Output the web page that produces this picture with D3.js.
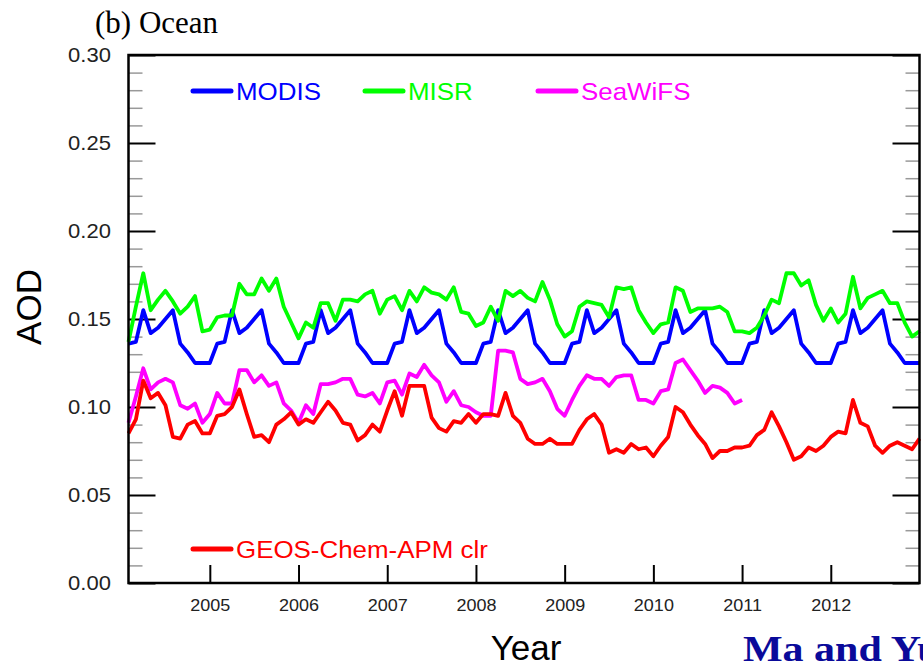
<!DOCTYPE html>
<html>
<head>
<meta charset="utf-8">
<script src="https://cdn.jsdelivr.net/npm/d3@7"></script>
<style>
  body { margin: 0; background: #fff; }
  svg { display: block; font-family: 'Liberation Sans', Arial, sans-serif; }
</style>
</head>
<body>
<svg id="chart"></svg>
<script>
// Monthly AOD over ocean, Jan 2004 .. Dec 2012
const modis = [
  0.136, 0.137, 0.155, 0.142, 0.145, 0.150, 0.155, 0.136, 0.131, 0.125, 0.125, 0.125,
  0.136, 0.137, 0.155, 0.142, 0.145, 0.150, 0.155, 0.136, 0.131, 0.125, 0.125, 0.125,
  0.136, 0.137, 0.155, 0.142, 0.145, 0.150, 0.155, 0.136, 0.131, 0.125, 0.125, 0.125,
  0.136, 0.137, 0.155, 0.142, 0.145, 0.150, 0.155, 0.136, 0.131, 0.125, 0.125, 0.125,
  0.136, 0.137, 0.155, 0.142, 0.145, 0.150, 0.155, 0.136, 0.131, 0.125, 0.125, 0.125,
  0.136, 0.137, 0.155, 0.142, 0.145, 0.150, 0.155, 0.136, 0.131, 0.125, 0.125, 0.125,
  0.136, 0.137, 0.155, 0.142, 0.145, 0.150, 0.155, 0.136, 0.131, 0.125, 0.125, 0.125,
  0.136, 0.137, 0.155, 0.142, 0.145, 0.150, 0.155, 0.136, 0.131, 0.125, 0.125, 0.125,
  0.136, 0.137, 0.155, 0.142, 0.145, 0.150, 0.155, 0.136, 0.131, 0.125, 0.125, 0.125
]
const misr = [
  0.137, 0.157, 0.176, 0.155, 0.161, 0.166, 0.160, 0.153, 0.157, 0.163, 0.143, 0.144,
  0.151, 0.152, 0.152, 0.170, 0.164, 0.164, 0.173, 0.166, 0.173, 0.157, 0.148, 0.139,
  0.148, 0.145, 0.159, 0.159, 0.149, 0.161, 0.161, 0.160, 0.164, 0.166, 0.153, 0.161,
  0.163, 0.155, 0.166, 0.160, 0.168, 0.165, 0.164, 0.161, 0.168, 0.154, 0.153, 0.146,
  0.148, 0.157, 0.149, 0.166, 0.163, 0.166, 0.162, 0.160, 0.171, 0.161, 0.147, 0.140,
  0.143, 0.157, 0.160, 0.159, 0.158, 0.151, 0.168, 0.167, 0.168, 0.155, 0.148, 0.142,
  0.147, 0.148, 0.168, 0.166, 0.154, 0.156, 0.156, 0.156, 0.157, 0.154, 0.143, 0.143,
  0.142, 0.145, 0.152, 0.161, 0.159, 0.176, 0.176, 0.169, 0.172, 0.158, 0.149, 0.156,
  0.148, 0.153, 0.174, 0.156, 0.162, 0.164, 0.166, 0.159, 0.159, 0.148, 0.140, 0.143
]
// SeaWiFS stops after Dec 2010
const seawifs = [
  0.091, 0.106, 0.122, 0.110, 0.114, 0.116, 0.114, 0.101, 0.099, 0.102, 0.091, 0.096,
  0.108, 0.102, 0.102, 0.121, 0.121, 0.114, 0.118, 0.112, 0.114, 0.102, 0.098, 0.091,
  0.101, 0.096, 0.113, 0.113, 0.114, 0.116, 0.116, 0.107, 0.106, 0.108, 0.102, 0.114,
  0.115, 0.107, 0.119, 0.117, 0.124, 0.118, 0.114, 0.103, 0.109, 0.101, 0.100, 0.097,
  0.095, 0.095, 0.132, 0.132, 0.131, 0.116, 0.113, 0.114, 0.116, 0.109, 0.099, 0.095,
  0.104, 0.112, 0.118, 0.116, 0.116, 0.112, 0.117, 0.118, 0.118, 0.104, 0.104, 0.102,
  0.109, 0.110, 0.125, 0.127, 0.121, 0.115, 0.108, 0.112, 0.111, 0.108, 0.102, 0.104
]
const geosChem = [
  0.085, 0.093, 0.115, 0.105, 0.108, 0.101, 0.083, 0.082, 0.090, 0.092, 0.085, 0.085,
  0.095, 0.096, 0.100, 0.110, 0.096, 0.083, 0.084, 0.080, 0.090, 0.093, 0.097, 0.090,
  0.093, 0.091, 0.097, 0.103, 0.098, 0.091, 0.090, 0.081, 0.084, 0.090, 0.086, 0.098,
  0.109, 0.095, 0.112, 0.112, 0.112, 0.094, 0.088, 0.086, 0.092, 0.091, 0.096, 0.091,
  0.096, 0.096, 0.095, 0.108, 0.095, 0.091, 0.082, 0.079, 0.079, 0.082, 0.079, 0.079,
  0.079, 0.087, 0.093, 0.096, 0.090, 0.074, 0.076, 0.074, 0.079, 0.076, 0.077, 0.072,
  0.078, 0.083, 0.100, 0.097, 0.090, 0.084, 0.079, 0.071, 0.075, 0.075, 0.077, 0.077,
  0.078, 0.084, 0.087, 0.097, 0.089, 0.080, 0.070, 0.072, 0.077, 0.075, 0.078, 0.083,
  0.086, 0.085, 0.104, 0.091, 0.089, 0.078, 0.074, 0.078, 0.080, 0.078, 0.076, 0.082
]

const startYear = 2004
const yearTicks = [2005, 2006, 2007, 2008, 2009, 2010, 2011, 2012]
const aodTicks = [0.00, 0.05, 0.10, 0.15, 0.20, 0.25, 0.30]
const aodMinorTicks = d3.range(0, 31).map(d => d / 100).filter((d, i) => i % 5 !== 0)

const series = [
  { name: 'MODIS', values: modis, color: '#0000ff' },
  { name: 'MISR', values: misr, color: '#00ff00' },
  { name: 'SeaWiFS', values: seawifs, color: '#ff00ff' },
  { name: 'GEOS-Chem-APM clr', values: geosChem, color: '#ff0000' }
]

// plot frame
const svgW = 923
const svgH = 667
const plotLeft = 128.5
const plotRight = 919.5
const plotTop = 55
const plotBottom = 583

const svg = d3.select('#chart').attr('width', svgW).attr('height', svgH)
svg.append('rect').attr('width', svgW).attr('height', svgH).attr('fill', '#fff')

// month i plotted at startYear + (i + 1) / 12
const x = d3.scaleLinear().domain([startYear + 1 / 12, startYear + 9]).range([plotLeft, plotRight])
const y = d3.scaleLinear().domain([0, 0.3]).range([plotBottom, plotTop])

const plot = svg.append('g')

// minor ticks (grey) on left and right
plot.append('g')
  .attr('transform', `translate(${plotLeft},0)`)
  .call(d3.axisRight(y).tickValues(aodMinorTicks).tickSize(14).tickFormat(''))
  .call(g => g.select('.domain').remove())
  .call(g => g.selectAll('line').attr('stroke', '#999').attr('stroke-width', 1.5))
plot.append('g')
  .attr('transform', `translate(${plotRight},0)`)
  .call(d3.axisLeft(y).tickValues(aodMinorTicks).tickSize(14).tickFormat(''))
  .call(g => g.select('.domain').remove())
  .call(g => g.selectAll('line').attr('stroke', '#999').attr('stroke-width', 1.5))

// major ticks + labels
plot.append('g')
  .attr('transform', `translate(${plotLeft},0)`)
  .call(d3.axisLeft(y).tickValues(aodTicks).tickSize(-27).tickPadding(16).tickFormat(d3.format('.2f')))
  .call(g => g.select('.domain').remove())
  .call(g => g.selectAll('line').attr('stroke', '#000').attr('stroke-width', 2))
  .call(g => g.selectAll('text')
    .attr('font-size', 20).attr('fill', '#222')
    .attr('font-family', "'Liberation Sans', Arial, sans-serif")
    .attr('transform', 'scale(1.1,1)'))
plot.append('g')
  .attr('transform', `translate(${plotRight},0)`)
  .call(d3.axisRight(y).tickValues(aodTicks).tickSize(-27).tickFormat(''))
  .call(g => g.select('.domain').remove())
  .call(g => g.selectAll('line').attr('stroke', '#000').attr('stroke-width', 2))

plot.append('g')
  .attr('transform', `translate(0,${plotBottom})`)
  .call(d3.axisBottom(x).tickValues(yearTicks).tickSize(-18).tickPadding(16).tickFormat(d3.format('d')))
  .call(g => g.select('.domain').remove())
  .call(g => g.selectAll('line').attr('stroke', '#000').attr('stroke-width', 2))
  .call(g => g.selectAll('text')
    .attr('font-size', 17).attr('fill', '#222')
    .attr('font-family', "'Liberation Sans', Arial, sans-serif")
    .attr('transform', 'scale(1.06,1)'))

// data lines
const line = d3.line()
  .x((d, i) => x(startYear + (i + 1) / 12))
  .y(d => y(d))

series.forEach(s => {
  plot.append('path')
    .datum(s.values)
    .attr('fill', 'none')
    .attr('stroke', s.color)
    .attr('stroke-width', 3.8)
    .attr('stroke-linejoin', 'round')
    .attr('d', line)
})

// frame on top
plot.append('rect')
  .attr('x', plotLeft).attr('y', plotTop)
  .attr('width', plotRight - plotLeft).attr('height', plotBottom - plotTop)
  .attr('fill', 'none').attr('stroke', '#000').attr('stroke-width', 2.5)

// legends
const legendPos = [
  { lx: 193, ly: 91 },
  { lx: 365, ly: 91 },
  { lx: 538, ly: 91 },
  { lx: 193, ly: 549 }
]
series.forEach((s, i) => {
  const p = legendPos[i]
  svg.append('line')
    .attr('x1', p.lx).attr('x2', p.lx + 38)
    .attr('y1', p.ly).attr('y2', p.ly)
    .attr('stroke', s.color).attr('stroke-width', 5).attr('stroke-linecap', 'round')
  svg.append('text')
    .attr('transform', `translate(${p.lx + 43},${p.ly + 9}) scale(1.08,1)`)
    .attr('font-size', 24)
    .attr('fill', s.color)
    .text(s.name)
})

// titles
svg.append('text')
  .attr('x', 95).attr('y', 33)
  .attr('font-family', "'Liberation Serif', 'Times New Roman', serif")
  .attr('font-size', 31)
  .attr('fill', '#000')
  .text('(b) Ocean')

svg.append('text')
  .attr('transform', 'translate(41,307) rotate(-90)')
  .attr('text-anchor', 'middle')
  .attr('font-size', 35)
  .attr('fill', '#000')
  .text('AOD')

svg.append('text')
  .attr('x', 526).attr('y', 660)
  .attr('text-anchor', 'middle')
  .attr('font-size', 35)
  .attr('fill', '#000')
  .text('Year')

// author tag, cut off at the right edge as in the source figure
svg.append('text')
  .attr('transform', 'translate(743,661) scale(1.2,1)')
  .attr('font-family', "'Liberation Serif', 'Times New Roman', serif")
  .attr('font-weight', 'bold')
  .attr('font-size', 35)
  .attr('fill', '#0a0a9a')
  .text('Ma and Yu')
</script>
</body>
</html>
